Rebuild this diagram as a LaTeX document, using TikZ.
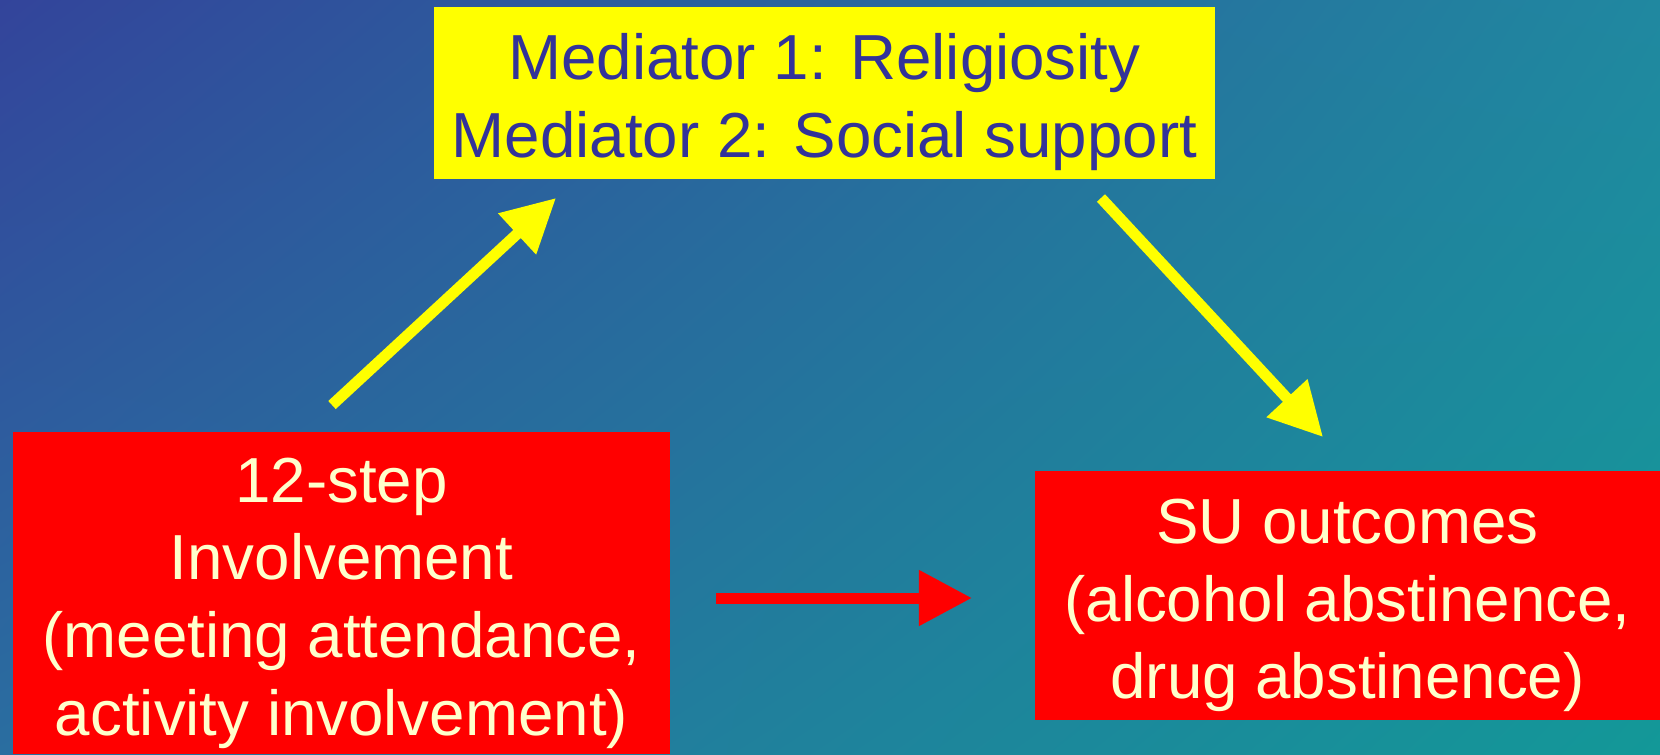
\documentclass[tikz,border=0pt]{standalone}
\usepackage{fontspec}
\setmainfont{Liberation Sans}
\usetikzlibrary{arrows.meta}
\usetikzlibrary{shadings}
\usetikzlibrary{calc}
\definecolor{bgul}{HTML}{33449B}
\definecolor{bgur}{HTML}{2088A0}
\definecolor{bgll}{HTML}{2A6EA0}
\definecolor{bglr}{HTML}{139898}
\definecolor{medtext}{HTML}{333399}
\definecolor{cream}{HTML}{FFFFCC}
\definecolor{medyellow}{RGB}{255,255,0}
\definecolor{boxred}{RGB}{255,0,0}
\tikzset{t/.style={font=\fontsize{18.1}{22.1}\selectfont, align=center, inner sep=0pt}}
\tikzset{medbox/.style={fill=medyellow, inner sep=0pt}}
\tikzset{redbox/.style={fill=boxred, inner sep=0pt}}
\tikzset{yarr/.style={medyellow, line width=0.11cm, -{Triangle[length=0.53cm,width=0.53cm]}}}
\tikzset{rarr/.style={boxred, line width=0.11cm, -{Triangle[length=0.53cm,width=0.53cm]}}}

\begin{document}
\begin{tikzpicture}[x=0.01cm,y=-0.01cm]
        \useasboundingbox (0,0) rectangle (1660,754);
        \shade [upper left=bgul, upper right=bgur, lower left=bgll, lower right=bglr] (0,0) rectangle (1660,754);
        % boxes
        \node [medbox, minimum width=7.81cm, minimum height=1.72cm] (med) at (824.5,93) {};
        \node [redbox, minimum width=6.57cm, minimum height=3.22cm] (inv) at (341.5,593) {};
        \node [redbox, minimum width=6.25cm, minimum height=2.49cm] (out) at (1347.5,595.5) {};
        % texts
        \node [t, text=medtext] (medtxt) at ([yshift=-0.09cm]med.center)
          {Mediator 1: Religiosity\\Mediator 2: Social support};
        \node [t, text=cream] (invtxt) at ([yshift=-0.1cm]inv.center)
          {12-step\\Involvement\\(meeting attendance,\\activity involvement)};
        \node [t, text=cream] (outtxt) at ([yshift=-0.1cm]out.center)
          {SU outcomes\\(alcohol abstinence,\\drug abstinence)};
        % arrows
        \coordinate (a1s) at (332,405);
        \coordinate (a1e) at (556,198);
        \coordinate (a2s) at (1101,198);
        \coordinate (a2e) at (1323,437);
        \coordinate (a3s) at (716,598);
        \coordinate (a3e) at (972,598);
        \draw [yarr] (a1s) -- (a1e);
        \draw [yarr] (a2s) -- (a2e);
        \draw [rarr] (a3s) -- (a3e);
      \end{tikzpicture}
\end{document}
